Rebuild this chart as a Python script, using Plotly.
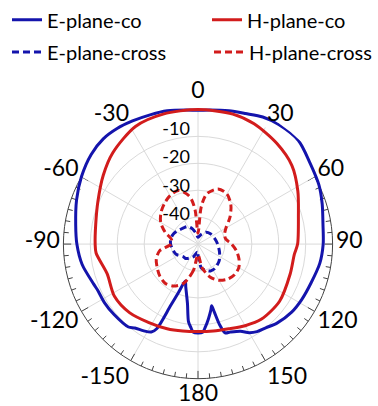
import plotly.graph_objects as go

# Radiation patterns, normalised gain in dB versus angle in degrees
e_co_theta = [-180, -177, -175, -173, -170, -167, -164, -161, -158, -156, -154, -152,
              -148, -143, -140, -130, -122, -115, -111, -100, -90, -81, -70, -60,
              -50, -42, -35, -28, -20, -13, -5, 0, 5, 13, 20, 27, 34, 44, 54, 64,
              72, 81, 90, 99, 109, 118, 126, 135, 141, 146, 150, 154, 160, 163,
              165, 166.5, 167.5, 169, 172, 175, 177, 180]
e_co_r = [-17, -17.2, -19, -21, -27.5, -31, -33.5, -35.5, -30.5, -25, -15, -13,
          -12, -11, -9.8, -9.3, -9, -9, -8.5, -6.3, -5, -4, -2, 0,
          1.8, 2.6, 2.4, 1.8, 1.2, 0.8, 0, -0.3, 0, 0.8, 1.6, 3, 3.6, 3.6, 1.4, 0,
          -1.5, -3, -3.5, -4.2, -5.6, -6.3, -7, -8.5, -10, -10.8, -12, -14, -15.2, -15.5,
          -19, -24, -26.5, -25, -22, -19, -17.2, -17]

h_co_theta = [-180, -170, -160, -148, -135, -122, -108, -95, -90, -79, -67, -54,
              -43, -28, -15, 0, 15, 25, 38, 50, 62, 74, 90, 96, 108, 125, 140,
              150, 160, 170, 180]
h_co_r = [-17.5, -17.2, -16.5, -15.6, -14, -13.4, -14.5, -12, -11.8, -11.3, -9.6, -6.5,
          -3.6, -0.5, 0, 0, 0, -0.7, -2.5, -4.5, -8, -11.2, -13, -14, -14, -13, -13.5,
          -15, -16.5, -17.2, -17.5]

e_x_theta = [-180, -175, -165, -160, -150, -140, -130, -115, -105, -90, -80, -70,
             -60, -50, -40, -30, -20, -10, 0, 10, 20, 35, 50, 70, 90, 110, 128,
             145, 155, 165, 172, 175, 180]
e_x_r = [-46, -47, -46, -45, -44, -43, -42.8, -41, -40.5, -39.8, -39.7, -40,
         -40.7, -41.5, -42, -42.5, -44, -46, -47.5, -47, -46, -44.6, -44, -43.5, -42.7,
         -41.5, -40, -39, -39, -40, -41, -43, -46]

h_x_theta = [-180, -170, -160, -150, -140, -130, -120, -110, -100, -90, -80, -70,
             -60, -50, -40, -30, -20, -10, -5, 0, 5, 10, 20, 30, 40, 50, 60, 70,
             80, 90, 100, 110, 120, 130, 140, 150, 160, 170, 180]
h_x_r = [-46, -40, -34.5, -32, -31, -31.5, -32.5, -33.5, -35.5, -40, -40, -37,
         -34, -32, -30.5, -29.2, -28.8, -32, -37, -46, -36, -31, -28.2, -28.5, -31, -34.5,
         -38, -39.5, -39.5, -37.5, -35.5, -33.8, -32.5, -32.3, -33, -34.5, -37, -41, -46]

angle_ticks = list(range(0, 360, 30))
angle_text = ["0", "30", "60", "90", "120", "150", "180", "-150", "-120", "-90", "-60", "-30"]
radial_ticks = [-40, -30, -20, -10]
rim_tick_angles = list(range(60, 301, 5))     # lower arc of the rim, clockwise from 0

BLUE = "#1414ac"
RED = "#d21c1c"
FONT = "Lato"
GRID = "#dadada"
DARK = "#444444"
CLEAR = "rgba(0,0,0,0)"

W, H = 378, 406
CX, CY, R0 = 198, 240, 138          # centre and 0 dB radius in pixels
R_MIN, R_MAX = -50, 0
R_DATA_MAX = 4                       # data layer keeps room for gain above 0 dB
R1 = R0 * (R_DATA_MAX - R_MIN) / (R_MAX - R_MIN)
RING_PAD = 0.6                       # ring layer: 0 dB circle sits inside its edge
R2 = R0 * (R_MAX + RING_PAD - R_MIN) / (R_MAX - R_MIN)
LX, LY, RL = 203, 235.8, 146.7       # layer carrying the dB labels
AY, RA = 236, 141                    # layer carrying the angle labels
RIM_SECTOR = [150, 390]              # lower part of the rim that carries the ring
PX_PER_DB = R0 / (R_MAX - R_MIN)
MINOR_TICK_DB = 5 / PX_PER_DB        # rim tick lengths expressed in dB
MAJOR_TICK_DB = 8 / PX_PER_DB


def dom_x(c, r):
    return [(c - r) / W, (c + r) / W]


def dom_y(c, r):
    return [(H - c - r) / H, (H - c + r) / H]


def rim_dom_y(r):
    # vertical extent of the rim sector (down to the bottom, up to sin(150 deg))
    return [(H - CY - r) / H, (H - CY + 0.5 * r) / H]


fig = go.Figure()
# empty traces so the grid and label layers get drawn
for sp in ("polar", "polar4", "polar5"):
    fig.add_trace(go.Scatterpolar(r=[None], theta=[None], subplot=sp, mode="lines",
                                  showlegend=False, hoverinfo="skip"))

# tick marks pointing inwards from the 0 dB ring
tick_theta, tick_r = [], []
for a in rim_tick_angles:
    length = MAJOR_TICK_DB if a % 30 == 0 else MINOR_TICK_DB
    tick_theta += [a, a, None]
    tick_r += [R_MAX, R_MAX - length, None]
fig.add_trace(go.Scatterpolar(
    theta=tick_theta, r=tick_r, subplot="polar2", mode="lines",
    line=dict(color=DARK, width=1), showlegend=False, hoverinfo="skip",
))

series = [
    ("E-plane-co", e_co_theta, e_co_r, BLUE, "solid", "legend"),
    ("H-plane-co", h_co_theta, h_co_r, RED, "solid", "legend2"),
    ("E-plane-cross", e_x_theta, e_x_r, BLUE, "7px,4px", "legend3"),
    ("H-plane-cross", h_x_theta, h_x_r, RED, "7px,4px", "legend4"),
]
for name, th, r, col, dash, leg in series:
    fig.add_trace(go.Scatterpolar(
        theta=th, r=r, mode="lines", name=name, subplot="polar3", legend=leg,
        line=dict(color=col, width=3, dash=dash, shape="spline", smoothing=0.8),
    ))

hidden_angular = dict(rotation=90, direction="clockwise", visible=False)

fig.update_layout(
    width=W, height=H, margin=dict(l=0, r=0, t=0, b=0),
    paper_bgcolor="white", font=dict(family=FONT, color="black"),
    showlegend=True,
    # grid rings and spokes
    polar=dict(
        domain=dict(x=dom_x(CX, R0), y=dom_y(CY, R0)),
        bgcolor=CLEAR,
        angularaxis=dict(
            rotation=90, direction="clockwise", tickmode="array",
            tickvals=angle_ticks, showticklabels=False, ticks="",
            showgrid=True, gridcolor=GRID, gridwidth=1, showline=False,
        ),
        radialaxis=dict(
            range=[R_MIN, R_MAX], tickmode="array", tickvals=radial_ticks,
            showgrid=True, gridcolor=GRID, gridwidth=1,
            angle=90, showline=False, ticks="", showticklabels=False,
        ),
    ),
    # outer 0 dB ring along the lower arc, with its tick marks
    polar2=dict(
        sector=RIM_SECTOR,
        domain=dict(x=dom_x(CX, R2), y=rim_dom_y(R2)),
        bgcolor=CLEAR,
        angularaxis=dict(rotation=90, direction="clockwise", showticklabels=False,
                         ticks="", showgrid=False, showline=False),
        radialaxis=dict(
            range=[R_MIN, R_MAX + RING_PAD], tickmode="array", tickvals=[R_MAX],
            showgrid=True, gridcolor=DARK, gridwidth=1,
            showline=False, ticks="", showticklabels=False,
        ),
    ),
    # pattern curves
    polar3=dict(
        domain=dict(x=dom_x(CX, R1), y=dom_y(CY, R1)),
        bgcolor=CLEAR,
        angularaxis=hidden_angular,
        radialaxis=dict(range=[R_MIN, R_DATA_MAX], visible=False),
    ),
    # dB labels along the 0 degree spoke
    polar4=dict(
        domain=dict(x=dom_x(LX, RL), y=dom_y(LY, RL)),
        bgcolor=CLEAR,
        angularaxis=hidden_angular,
        radialaxis=dict(
            range=[R_MIN, R_MAX], tickmode="array", tickvals=radial_ticks,
            ticktext=[str(v) for v in radial_ticks],
            showgrid=False, showline=False, ticks="",
            angle=90, side="counterclockwise",
            tickfont=dict(size=18, family=FONT),
        ),
    ),
    # angle labels around the rim
    polar5=dict(
        domain=dict(x=dom_x(CX, RA), y=dom_y(AY, RA)),
        bgcolor=CLEAR,
        angularaxis=dict(
            rotation=90, direction="clockwise", tickmode="array",
            tickvals=angle_ticks, ticktext=angle_text,
            showgrid=False, showline=False, ticks="",
            tickfont=dict(size=23, family=FONT),
        ),
        radialaxis=dict(range=[R_MIN, R_MAX], visible=False),
    ),
)

leg_common = dict(xanchor="left", yanchor="middle", bgcolor=CLEAR,
                  font=dict(size=20, family=FONT, color="black"))
fig.update_layout(
    legend=dict(x=7 / W, y=1 - 10 / H, **leg_common),
    legend2=dict(x=207 / W, y=1 - 10 / H, **leg_common),
    legend3=dict(x=7 / W, y=1 - 43 / H, **leg_common),
    legend4=dict(x=209 / W, y=1 - 43 / H, **leg_common),
)

fig.write_html("out.html")
